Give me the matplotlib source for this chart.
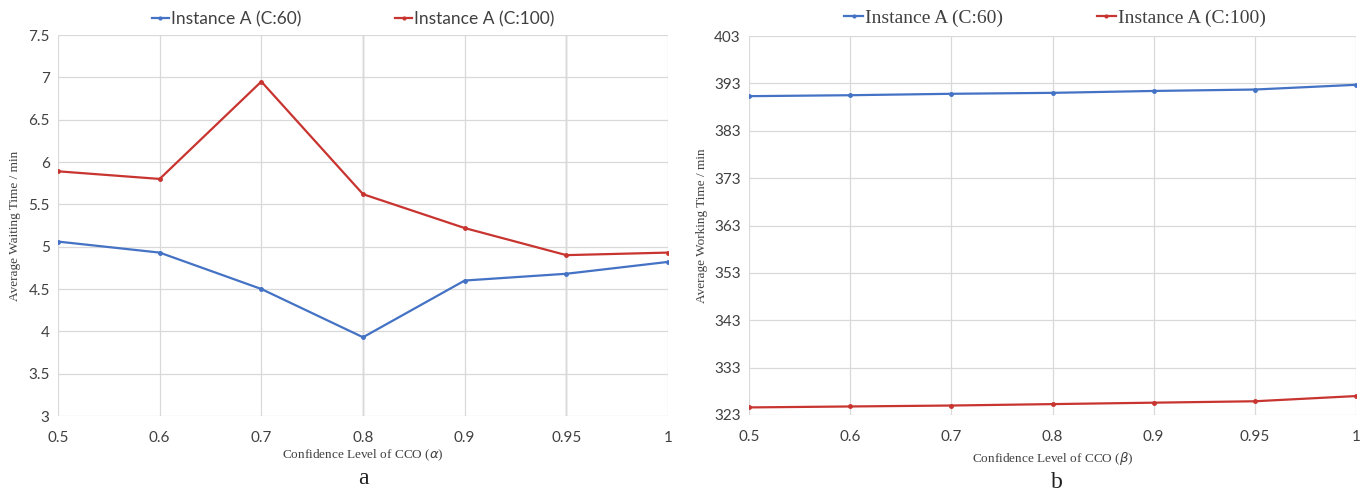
import matplotlib
matplotlib.use("Agg")
import matplotlib.pyplot as plt

levels = ["0.5", "0.6", "0.7", "0.8", "0.9", "0.95", "1"]

wait_c60 = [5.06, 4.93, 4.50, 3.93, 4.60, 4.68, 4.82]
wait_c100 = [5.89, 5.80, 6.95, 5.62, 5.22, 4.90, 4.93]

work_c60 = [390.3, 390.5, 390.8, 391.0, 391.4, 391.7, 392.7]
work_c100 = [324.6, 324.8, 325.0, 325.3, 325.6, 325.9, 327.0]

blue = "#4472C4"
red = "#C8342F"
grid = "#D9D9D9"
sans = ["Lato", "DejaVu Sans"]
serif = ["Liberation Serif", "DejaVu Serif"]

fig = plt.figure(figsize=(13.68, 4.96), dpi=100)
ax1 = fig.add_axes([58 / 1368, 1 - 416 / 496, 610 / 1368, 381 / 496])
ax2 = fig.add_axes([749 / 1368, 1 - 415 / 496, 607 / 1368, 379 / 496])

x = list(range(len(levels)))


def style(ax, yticks, dark_cols=()):
    ax.set_xlim(0, len(levels) - 1)
    ax.set_ylim(yticks[0], yticks[-1])
    ax.set_yticks(yticks)
    ax.set_xticks(x)
    ax.set_xticklabels(levels)
    for s in ax.spines.values():
        s.set_visible(False)
    ax.grid(True, color=grid, linewidth=0.9)
    ax.set_axisbelow(True)
    for c in dark_cols:
        ax.axvline(c, color="#BDBDBD", linewidth=1.0, zorder=0.5)
    ax.tick_params(length=0, labelsize=11, colors="#404040")
    ax.tick_params(axis="x", pad=11)
    ax.tick_params(axis="y", pad=6)
    for lab in ax.get_xticklabels() + ax.get_yticklabels():
        lab.set_family(sans)


# panel a
ax1.plot(x, wait_c60, color=blue, marker="o", markersize=2.5, linewidth=1.6,
         label="Instance A (C:60)")
ax1.plot(x, wait_c100, color=red, marker="o", markersize=2.5, linewidth=1.6,
         label="Instance A (C:100)")
style(ax1, [3 + 0.5 * i for i in range(10)], dark_cols=(3, 5))
ax1.set_yticklabels(["3", "3.5", "4", "4.5", "5", "5.5", "6", "6.5", "7", "7.5"])
for lab in ax1.get_yticklabels():
    lab.set_family(sans)
ax1.set_xlabel("Confidence Level of CCO ($\\it{\\alpha}$)", family=serif,
               fontsize=9.5, color="#404040", labelpad=2)
ax1.set_ylabel("Average Waiting Time / min", family=serif, fontsize=9.5,
               color="#404040", labelpad=5)
ax1.legend(loc="center", bbox_to_anchor=(353 / 1368, 1 - 19 / 496),
           bbox_transform=fig.transFigure, ncol=2,
           frameon=False, handlelength=1.0, handletextpad=0.1,
           columnspacing=5.4, prop={"family": sans, "size": 12.5},
           labelcolor="#404040", markerscale=0.8)

# panel b
ax2.plot(x, work_c60, color=blue, marker="o", markersize=2.5, linewidth=1.6,
         label="Instance A (C:60)")
ax2.plot(x, work_c100, color=red, marker="o", markersize=2.5, linewidth=1.6,
         label="Instance A (C:100)")
style(ax2, [323 + 10 * i for i in range(9)])
ax2.set_xlabel("Confidence Level of CCO ($\\it{\\beta}$)", family=serif,
               fontsize=9.5, color="#404040", labelpad=4)
ax2.set_ylabel("Average Working Time / min", family=serif, fontsize=9.5,
               color="#404040", labelpad=4)
ax2.legend(loc="center", bbox_to_anchor=(1055 / 1368, 1 - 18 / 496),
           bbox_transform=fig.transFigure, ncol=2,
           frameon=False, handlelength=1.0, handletextpad=0.1,
           columnspacing=4.8, prop={"family": serif, "size": 14},
           labelcolor="#404040", markerscale=0.8)

fig.text(363 / 1368, 1 - 478 / 496, "a", family=serif, fontsize=17,
         ha="center", va="center", color="#202020")
fig.text(1057 / 1368, 1 - 482 / 496, "b", family=serif, fontsize=17,
         ha="center", va="center", color="#202020")

fig.savefig("out.png", dpi=100)
